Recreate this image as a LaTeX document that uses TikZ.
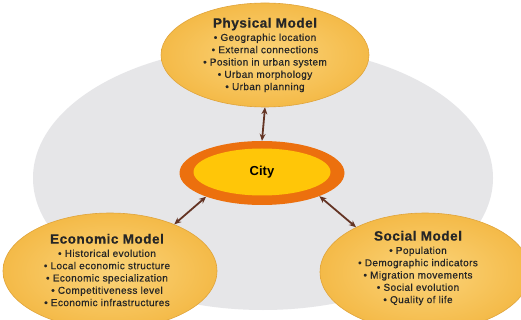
\documentclass[tikz,border=0pt]{standalone}
\usepackage{fontspec}
\setmainfont{Liberation Sans}
\newfontfamily\itemfont[LetterSpace=4, FakeBold=0.6]{Liberation Sans}
\usetikzlibrary{shapes.geometric, arrows.meta}
\definecolor{backgray}{RGB}{230,230,232}
\definecolor{modellight}{RGB}{251,212,122}
\definecolor{modelgold}{RGB}{244,186,72}
\definecolor{modelrim}{RGB}{224,164,58}
\definecolor{cityorange}{RGB}{236,112,14}
\definecolor{cityyellow}{RGB}{255,198,8}
\definecolor{linkbrown}{RGB}{100,52,36}

\begin{document}
\begin{tikzpicture}[x=1pt, y=-1pt,
    model/.style={ellipse, draw=modelrim, line width=0.6pt, inner color=modellight,
        outer color=modelgold, inner sep=0pt},
    modeltext/.style={align=center, text=black!85,
        font=\fontsize{10}{12.3}\selectfont\itemfont},
    link/.style={linkbrown, line width=1.8pt,
        {Stealth[length=7pt,width=6pt]}-{Stealth[length=7pt,width=6pt]}}]

    \path[use as bounding box, clip] (0,0) rectangle (521,320);
    \fill[white] (0,0) rectangle (521,320);

    %background
    \fill[backgray] (263,178) ellipse [x radius=230pt, y radius=132pt];

    %models
    \node[model, minimum width=208pt, minimum height=104pt] (phys) at (265,55) {};
    \node[model, minimum width=214pt, minimum height=116pt] (econ) at (110,271) {};
    \node[model, minimum width=210pt, minimum height=118pt] (social) at (425,272) {};

    %city
    \node[ellipse, fill=cityorange, minimum width=165pt, minimum height=64pt,
        inner sep=0pt] (city) at (262,173) {};
    \node[ellipse, fill=cityyellow, minimum width=137pt, minimum height=47pt,
        inner sep=0pt, font=\fontsize{13}{14}\selectfont\bfseries] (cityin) at (262,172) {City};

    %texts
    \node[modeltext] (phystext) at (265,55) {{\fontsize{13.5}{14}\selectfont\bfseries Physical Model}\\[1pt]
        • Geographic location\\ • External connections\\ • Position in urban system\\
        • Urban morphology\\ • Urban planning};
    \node[modeltext] (econtext) at (107,270) {{\fontsize{13.5}{14}\selectfont\bfseries Economic Model}\\[1pt]
        • Historical evolution\\ • Local economic structure\\ • Economic specialization\\
        • Competitiveness level\\ • Economic infrastructures};
    \node[modeltext] (socialtext) at (418,268) {{\fontsize{13.5}{14}\selectfont\bfseries Social Model}\\[1pt]
        • Population\\ • Demographic indicators\\ • Migration movements\\
        • Social evolution\\ • Quality of life};

    %arrows
    \draw[link] (phys.south) -- (city.north);
    \draw[link] (city.203) -- (econ.36);
    \draw[link] (city.-22) -- (social.147);

\end{tikzpicture}
\end{document}
